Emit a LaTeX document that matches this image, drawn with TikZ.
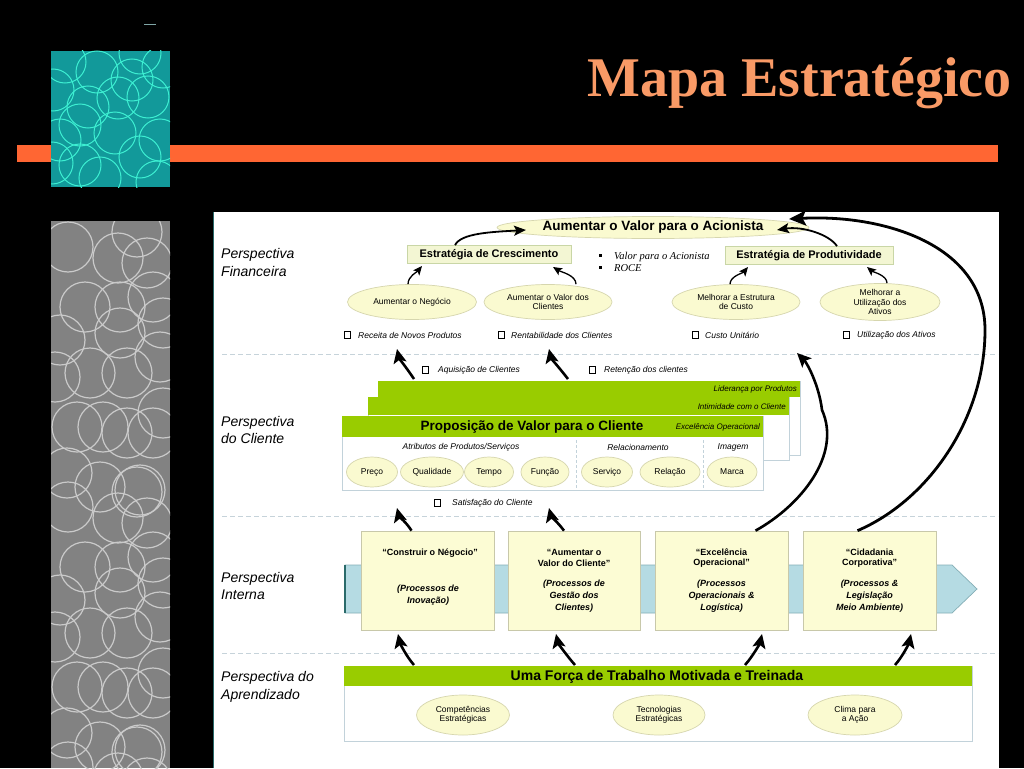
\documentclass[tikz,border=0pt]{standalone}
\usepackage{fontspec}
\setmainfont{Liberation Sans}
\newfontfamily\serifbf{Liberation Serif}
\usetikzlibrary{shapes.geometric,arrows.meta}
\definecolor{tealbg}{HTML}{12999A}
\definecolor{tealcirc}{HTML}{3DEFD2}
\definecolor{graybg}{HTML}{828282}
\definecolor{graycirc}{HTML}{CACACA}
\definecolor{orangebar}{HTML}{FF6633}
\definecolor{titleor}{HTML}{F99A66}
\definecolor{ellfill}{HTML}{FAFAD0}
\definecolor{ellbd}{HTML}{D6D6AE}
\definecolor{boxfill}{HTML}{F3F6D3}
\definecolor{boxbd}{HTML}{C9D6A6}
\definecolor{procfill}{HTML}{FCFCD4}
\definecolor{procbd}{HTML}{C8C8AA}
\definecolor{greenhdr}{HTML}{99CC00}
\definecolor{sepc}{HTML}{C6D3DA}
\definecolor{cardbd}{HTML}{C2D2DA}
\definecolor{bandfill}{HTML}{B5DBE3}
\definecolor{bandbd}{HTML}{84AEB6}
\definecolor{paneledge}{HTML}{2A6A6A}
\begin{document}
\begin{tikzpicture}[x=1pt,y=-1pt,
  ell/.style={ellipse, draw=ellbd, fill=ellfill, line width=0.7pt, inner sep=0pt, align=center, font=\fontsize{8.5}{9.5}\selectfont},
  strat/.style={draw=boxbd, fill=boxfill, line width=0.7pt, inner sep=0pt, font=\bfseries\fontsize{11}{12}\selectfont},
  lab/.style={anchor=base west, inner sep=0pt, font=\itshape\fontsize{14}{16}\selectfont},
  metric/.style={anchor=west, inner sep=0pt, font=\itshape\fontsize{8.5}{10}\selectfont},
  chk/.style={draw=black, line width=0.6pt, minimum size=6.5pt, inner sep=0pt},
  proc/.style={draw=procbd, fill=procfill, line width=0.7pt, minimum height=99pt, inner sep=0pt},
  ptitle/.style={align=center, inner sep=0pt, font=\bfseries\fontsize{9}{10.5}\selectfont},
  psub/.style={align=center, inner sep=0pt, font=\bfseries\itshape\fontsize{9}{12}\selectfont},
  hdrtxt/.style={anchor=east, inner sep=0pt, font=\itshape\fontsize{8}{9}\selectfont},
  sublab/.style={inner sep=0pt, font=\itshape\fontsize{8.5}{10}\selectfont},
  sepline/.style={draw=sepc, line width=1pt, dash pattern=on 5pt off 3pt},
  farr/.style={line width=1.3pt, -{Stealth[length=9pt,width=8pt,inset=2pt]}},
  midarr/.style={line width=1.8pt, -{Stealth[length=12pt,width=10pt,inset=2.5pt]}},
  bigarr/.style={line width=2.6pt, -{Stealth[length=14pt,width=13pt,inset=3pt]}},
  hugearr/.style={line width=2.8pt, -{Stealth[length=17pt,width=15pt,inset=3.5pt]}},
  tcirc/.style={draw=tealcirc, line width=1pt},
  gcirc/.style={draw=graycirc, line width=1.2pt}
]
\useasboundingbox (0,0) rectangle (1024,768);
\fill[black] (0,0) rectangle (1024,768);

% ---------- decoration ----------
\draw[draw=paneledge!60, line width=1pt] (144,25) -- (156,25);
\fill[orangebar] (17,145) rectangle (998,162);
\fill[tealbg] (51,51) rectangle (170,187);
\begin{scope}
\clip (51,51) rectangle (170,187);
\foreach \cx/\cy in {97/72,132/80,148/97,163/67,88/107,80/125,115/133,140/157,160/140,80/165,100/178,157/182,65/62,53/90,60/140,52/163,140/53,118/98}
  \draw[tcirc] (\cx,\cy) circle[radius=21pt];
\end{scope}
\fill[graybg] (51,221) rectangle (170,768);
\begin{scope}
\clip (51,221) rectangle (170,768);
\foreach \sh in {0,260,520}{
 \foreach \cx/\cy in {68/247,137/232,118/258,147/263,85/307,120/307,153/297,60/340,120/333,163/323,90/373,127/373,160/357,55/377,77/427,103/427,127/433,153/433,163/413,67/473,100/487,140/490}
  \draw[gcirc] (\cx,\cy+\sh) circle[radius=25pt];
}
\end{scope}
\node[anchor=base east, inner sep=0pt, text=titleor, font=\serifbf\bfseries\fontsize{56}{60}\selectfont] (title) at (1012,96) {Mapa Estratégico};

% ---------- panel ----------
\fill[white] (213,212) rectangle (999,768);
\draw[paneledge, line width=1pt] (213.5,212) -- (213.5,768);
\draw[sepline] (222,354) -- (998,354);
\draw[sepline] (222,516) -- (998,516);
\draw[sepline] (222,653) -- (998,653);

% perspective labels
\node[lab] (lf1) at (221,258) {Perspectiva};
\node[lab] (lf2) at (221,276) {Financeira};
\node[lab] (lc1) at (221,426) {Perspectiva};
\node[lab] (lc2) at (221,443) {do Cliente};
\node[lab] (li1) at (221,582) {Perspectiva};
\node[lab] (li2) at (221,599) {Interna};
\node[lab] (la1) at (221,681) {Perspectiva do};
\node[lab] (la2) at (221,699) {Aprendizado};

% ---------- financial ----------
\node[ell, minimum width=257pt, minimum height=22pt, font=\bfseries\fontsize{13.5}{15}\selectfont] (acion) at (653,227.5) {Aumentar o Valor para o Acionista};
\node[strat, minimum width=164pt, minimum height=18pt] (cresc) at (489,254.5) {Estratégia de Crescimento};
\node[strat, minimum width=168pt, minimum height=18pt] (prod) at (809,255.5) {Estratégia de Produtividade};
\fill (598.5,253.5) rectangle ++(3.5,3.5);
\fill (598.5,265.5) rectangle ++(3.5,3.5);
\node[anchor=base west, inner sep=0pt, font=\serifbf\itshape\fontsize{10.5}{12}\selectfont] (vpa) at (614,259) {Valor para o Acionista};
\node[anchor=base west, inner sep=0pt, font=\serifbf\itshape\fontsize{10.5}{12}\selectfont] (roce) at (614,271) {ROCE};

\node[ell, minimum width=129pt, minimum height=35pt] (eneg) at (412,302) {Aumentar o Negócio};
\node[ell, minimum width=128pt, minimum height=35pt] (evc) at (548,302) {Aumentar o Valor dos\\Clientes};
\node[ell, minimum width=128pt, minimum height=35pt] (ecusto) at (736,302) {Melhorar a Estrutura\\de Custo};
\node[ell, minimum width=120pt, minimum height=37pt] (eativ) at (880,302) {Melhorar a\\Utilização dos\\Ativos};

\node[chk] (k1) at (347.5,335) {};
\node[metric] (m1) at (358,335) {Receita de Novos Produtos};
\node[chk] (k2) at (501.5,335) {};
\node[metric] (m2) at (511,335) {Rentabilidade dos Clientes};
\node[chk] (k3) at (695.5,335) {};
\node[metric] (m3) at (705,335) {Custo Unitário};
\node[chk] (k4) at (846.5,335) {};
\node[metric] (m4) at (857,335) {Utilização dos Ativos};

\coordinate (h1) at (422,266);
\coordinate (h2) at (553,267);
\coordinate (h3) at (526,230);
\coordinate (h4) at (748,267);
\coordinate (h5) at (867,267);
\coordinate (h6) at (777,230);
\draw[farr] ([xshift=-4pt]eneg.north) .. controls +(0,-8) and +(-5,6) .. (h1);
\draw[farr] ([xshift=28pt]evc.north) .. controls +(0,-9) and +(8,5) .. (h2);
\draw[midarr] ([xshift=-34pt]cresc.north) .. controls +(6,-12) and +(-35,2) .. (h3);
\draw[farr] ([xshift=-6pt]ecusto.north) .. controls +(0,-8) and +(-5,6) .. (h4);
\draw[farr] ([xshift=7pt]eativ.north) .. controls +(0,-8) and +(6,5) .. (h5);
\draw[midarr] ([xshift=28pt]prod.north) .. controls +(-8,-12) and +(25,-4) .. (h6);

% ---------- customer ----------
\node[chk] (k5) at (425.5,370) {};
\node[metric] (m5) at (438,370) {Aquisição de Clientes};
\node[chk] (k6) at (592.5,370) {};
\node[metric] (m6) at (604,370) {Retenção dos clientes};

% back cards
\draw[cardbd, fill=white, line width=0.8pt] (378,381) rectangle (800,455);
\fill[greenhdr] (378,381) rectangle (800,397);
\node[hdrtxt] (lid) at (797,389.5) {Liderança por Produtos};
\draw[cardbd, fill=white, line width=0.8pt] (368,397) rectangle (789,460);
\fill[greenhdr] (368,397) rectangle (789,415);
\node[hdrtxt] (intim) at (786,406.5) {Intimidade com o Cliente};
% front card
\draw[cardbd, fill=white, line width=0.8pt] (342,416) rectangle (763,490);
\fill[greenhdr] (342,416) rectangle (763,437);
\node[inner sep=0pt, font=\bfseries\fontsize{13.5}{15}\selectfont] (propv) at (532,427) {Proposição de Valor para o Cliente};
\node[hdrtxt] (excop) at (760,427.5) {Excelência Operacional};
\draw[cardbd, line width=0.8pt, dash pattern=on 3pt off 2pt] (576,440) -- (576,490);
\draw[cardbd, line width=0.8pt, dash pattern=on 3pt off 2pt] (703,440) -- (703,490);
\node[sublab] (atr) at (461,447) {Atributos de Produtos/Serviços};
\node[sublab] (rel) at (638,447) {Relacionamento};
\node[sublab] (img) at (733,447) {Imagem};
\node[ell, minimum width=51pt, minimum height=30pt] (preco) at (372,472) {Preço};
\node[ell, minimum width=63pt, minimum height=30pt] (qual) at (432,472) {Qualidade};
\node[ell, minimum width=49pt, minimum height=30pt] (tempo) at (489,472) {Tempo};
\node[ell, minimum width=48pt, minimum height=30pt] (func) at (545,472) {Função};
\node[ell, minimum width=51pt, minimum height=30pt] (serv) at (607,472) {Serviço};
\node[ell, minimum width=60pt, minimum height=30pt] (relac) at (670,472) {Relação};
\node[ell, minimum width=50pt, minimum height=30pt] (marca) at (732,472) {Marca};

\node[chk] (k7) at (437.5,503) {};
\node[metric] (m7) at (452,503) {Satisfação do Cliente};

\coordinate (t1) at (414,379);
\coordinate (a1) at (397,349);
\coordinate (t2) at (568,379);
\coordinate (a2) at (549,349);
\draw[bigarr] (t1) .. controls +(-6,-9) and +(2,9) .. (a1);
\draw[bigarr] (t2) .. controls +(-7,-9) and +(2,9) .. (a2);

% ---------- internal ----------
\draw[bandbd, fill=bandfill, line width=0.7pt] (345,565) -- (952,565) -- (977,589) -- (952,613) -- (345,613) -- cycle;
\draw[paneledge, line width=1.2pt] (345,565) -- (345,613);

\node[proc, minimum width=133pt] (p1) at (427.5,580.5) {};
\node[proc, minimum width=132pt] (p2) at (574,580.5) {};
\node[proc, minimum width=133pt] (p3) at (721.5,580.5) {};
\node[proc, minimum width=133pt] (p4) at (869.5,580.5) {};

\node[ptitle] (p1t) at (430,553) {“Construir o Négocio”};
\node[psub] (p1s) at (428,595.5) {(Processos de\\Inovação)};
\node[ptitle] (p2t) at (574,558) {“Aumentar o\\Valor do Cliente”};
\node[psub] (p2s) at (574,596) {(Processos de\\Gestão dos\\Clientes)};
\node[ptitle] (p3t) at (721.5,558) {“Excelência\\Operacional”};
\node[psub] (p3s) at (721.5,596) {(Processos\\Operacionais \&\\Logística)};
\node[ptitle] (p4t) at (869.5,558) {“Cidadania\\Corporativa”};
\node[psub] (p4s) at (869.5,596) {(Processos \&\\Legislação\\Meio Ambiente)};

\coordinate (a3) at (397,508);
\coordinate (a4) at (549,508);
\draw[bigarr] ([xshift=-16pt]p1.north) .. controls +(-5,-8) and +(2,8) .. (a3);
\draw[bigarr] ([xshift=-10pt]p2.north) .. controls +(-6,-8) and +(2,8) .. (a4);

\coordinate (a5) at (797,353);
\coordinate (a6) at (789,219);
\draw[bigarr] ([xshift=34pt]p3.north) .. controls +(45,-25) and +(20,45) .. (822,410) .. controls +(-3,-25) and +(10,10) .. (a5);
\draw[hugearr] ([xshift=-12pt]p4.north) .. controls +(70,-30) and +(0,90) .. (985,330) .. controls +(0,-85) and +(95,-5) .. (a6);

% ---------- learning ----------
\draw[cardbd, fill=white, line width=0.8pt] (344,666) rectangle (972,741);
\fill[greenhdr] (344,666) rectangle (972,686);
\node[inner sep=0pt, font=\bfseries\fontsize{14}{15}\selectfont] (forca) at (657,676.5) {Uma Força de Trabalho Motivada e Treinada};
\node[ell, minimum width=93pt, minimum height=40pt] (comp) at (463,715) {Competências\\Estratégicas};
\node[ell, minimum width=92pt, minimum height=40pt] (tecn) at (659,715) {Tecnologias\\Estratégicas};
\node[ell, minimum width=94pt, minimum height=40pt] (clima) at (855,715) {Clima para\\a Ação};

\coordinate (b1) at (414,665);
\coordinate (b2) at (575,665);
\coordinate (b3) at (745,665);
\coordinate (b4) at (895,665);
\coordinate (a7) at (398,634);
\coordinate (a8) at (556,634);
\coordinate (a9) at (762,634);
\coordinate (a10) at (911,634);
\draw[bigarr] (b1) .. controls +(-8,-9) and +(2,9) .. (a7);
\draw[bigarr] (b2) .. controls +(-8,-9) and +(2,9) .. (a8);
\draw[bigarr] (b3) .. controls +(8,-9) and +(-2,9) .. (a9);
\draw[bigarr] (b4) .. controls +(8,-9) and +(-2,9) .. (a10);
\end{tikzpicture}
\end{document}
